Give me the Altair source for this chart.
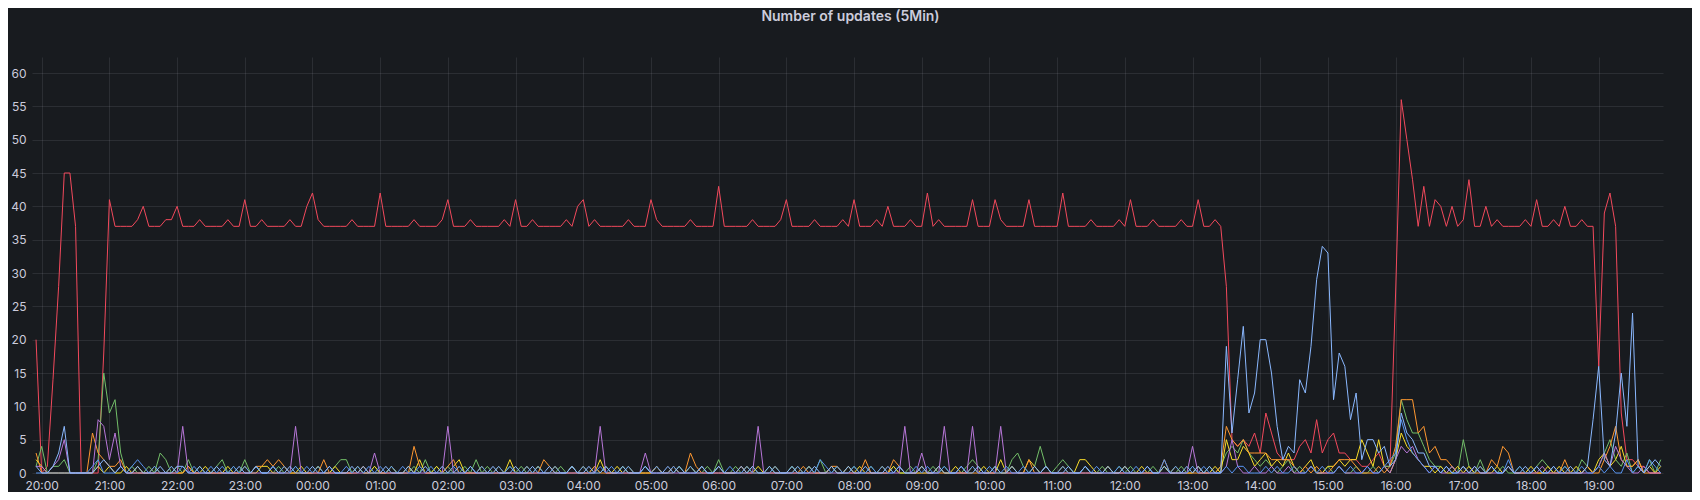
import altair as alt
import pandas as pd

# Series names and colours (Grafana dark palette)
series_names = ["s_red", "s_green", "s_yellow", "s_orange", "s_purple", "s_blue", "s_lightblue"]
series_colors = ["#F2495C", "#73BF69", "#FADE2A", "#FF9830", "#B877D9", "#5794F2", "#8AB8FF"]

# hourly tick labels (one per hour, from 20:00 to 19:00 next day)
hour_labels = ["20:00", "21:00", "22:00", "23:00", "00:00", "01:00", "02:00", "03:00",
               "04:00", "05:00", "06:00", "07:00", "08:00", "09:00", "10:00", "11:00",
               "12:00", "13:00", "14:00", "15:00", "16:00", "17:00", "18:00", "19:00"]
y_ticks = [0, 5, 10, 15, 20, 25, 30, 35, 40, 45, 50, 55, 60]

# 5-minute samples: first value at 19:55, then one row per hour (20:00 ... 19:00)
red = [20,
    0, 1, 14, 28, 45, 45, 37, 0, 0, 0, 0, 18,
    41, 37, 37, 37, 37, 38, 40, 37, 37, 37, 38, 38,
    40, 37, 37, 37, 38, 37, 37, 37, 37, 38, 37, 37,
    41, 37, 37, 38, 37, 37, 37, 37, 38, 37, 37, 40,
    42, 38, 37, 37, 37, 37, 37, 38, 37, 37, 37, 37,
    42, 37, 37, 37, 37, 37, 38, 37, 37, 37, 37, 38,
    41, 37, 37, 37, 38, 37, 37, 37, 37, 37, 38, 37,
    41, 37, 37, 38, 37, 37, 37, 37, 37, 38, 37, 40,
    41, 37, 38, 37, 37, 37, 37, 37, 38, 37, 37, 37,
    41, 38, 37, 37, 37, 37, 37, 38, 37, 37, 37, 37,
    43, 37, 37, 37, 37, 37, 38, 37, 37, 37, 37, 38,
    41, 37, 37, 37, 37, 38, 37, 37, 37, 37, 38, 37,
    41, 37, 37, 37, 38, 37, 40, 37, 37, 37, 38, 37,
    37, 42, 37, 38, 37, 37, 37, 37, 37, 41, 37, 37,
    37, 41, 38, 37, 37, 37, 37, 41, 37, 37, 37, 37,
    37, 42, 37, 37, 37, 37, 38, 37, 37, 37, 37, 38,
    37, 41, 37, 37, 37, 38, 37, 37, 37, 37, 38, 37,
    37, 41, 37, 37, 38, 37, 28, 5, 4, 5, 4, 6,
    3, 9, 6, 3, 2, 2, 2, 4, 5, 3, 8, 3,
    5, 6, 3, 3, 2, 2, 1, 1, 2, 3, 1, 1,
    27, 56, 50, 44, 37, 43, 37, 41, 40, 37, 40, 37,
    38, 44, 37, 37, 40, 37, 38, 37, 37, 37, 37, 38,
    37, 41, 37, 37, 38, 37, 40, 37, 37, 38, 37, 37,
    16, 39, 42, 37, 9, 2, 2, 1, 1, 0, 0, 0]

lightblue = [1,
    0, 0, 1, 3, 7, 0, 0, 0, 0, 0, 1, 2,
    1, 0, 1, 0, 0, 1, 0, 0, 0, 1, 0, 0,
    1, 1, 0, 0, 1, 0, 0, 1, 0, 0, 0, 1,
    0, 0, 1, 0, 0, 1, 0, 0, 1, 0, 0, 0,
    1, 0, 0, 1, 0, 0, 0, 1, 0, 1, 0, 0,
    0, 1, 0, 0, 0, 1, 0, 0, 1, 0, 0, 1,
    0, 0, 1, 0, 1, 0, 0, 0, 1, 0, 0, 0,
    1, 0, 0, 1, 0, 0, 1, 0, 0, 0, 1, 0,
    0, 1, 0, 0, 1, 0, 0, 1, 0, 0, 0, 1,
    0, 0, 0, 1, 0, 1, 0, 0, 0, 1, 0, 0,
    1, 0, 0, 0, 1, 0, 1, 0, 0, 1, 0, 0,
    0, 1, 0, 0, 0, 1, 0, 0, 1, 0, 0, 1,
    0, 0, 1, 0, 0, 0, 1, 0, 1, 0, 0, 0,
    1, 0, 0, 1, 0, 0, 0, 1, 0, 0, 1, 0,
    0, 1, 0, 0, 1, 0, 0, 0, 1, 0, 1, 0,
    0, 0, 1, 0, 0, 1, 0, 0, 0, 1, 0, 0,
    1, 0, 0, 0, 1, 0, 0, 1, 0, 0, 0, 1,
    0, 1, 0, 1, 0, 0, 19, 6, 14, 22, 9, 12,
    20, 20, 15, 7, 2, 4, 3, 14, 12, 19, 29, 34,
    33, 11, 18, 16, 8, 12, 2, 5, 5, 3, 4, 1,
    2, 9, 6, 5, 3, 3, 1, 1, 0, 1, 0, 0,
    1, 0, 1, 0, 0, 1, 0, 0, 1, 0, 0, 1,
    0, 1, 0, 0, 1, 0, 0, 1, 0, 0, 1, 8,
    16, 2, 1, 6, 15, 7, 24, 1, 0, 1, 2, 1]

green = [1,
    4, 0, 1, 1, 2, 0, 0, 0, 0, 0, 2, 15,
    9, 11, 3, 0, 1, 0, 0, 1, 0, 3, 2, 0,
    1, 0, 2, 0, 1, 0, 0, 1, 2, 0, 1, 0,
    2, 0, 1, 0, 0, 0, 1, 0, 0, 1, 0, 0,
    0, 1, 0, 0, 1, 2, 2, 0, 1, 0, 0, 1,
    0, 0, 1, 0, 0, 0, 1, 0, 2, 0, 1, 0,
    1, 0, 0, 1, 0, 2, 0, 1, 0, 0, 0, 1,
    0, 1, 0, 0, 1, 0, 0, 0, 1, 0, 1, 0,
    0, 0, 1, 0, 1, 0, 0, 1, 0, 0, 0, 1,
    0, 1, 0, 0, 0, 1, 0, 1, 0, 0, 1, 0,
    2, 0, 0, 1, 0, 0, 1, 0, 0, 1, 0, 0,
    0, 1, 0, 0, 1, 0, 2, 0, 0, 1, 0, 0,
    1, 0, 0, 1, 0, 0, 0, 1, 0, 0, 1, 0,
    0, 0, 1, 0, 1, 0, 0, 0, 1, 2, 1, 0,
    0, 1, 0, 0, 2, 3, 1, 0, 1, 4, 1, 0,
    1, 2, 1, 0, 0, 1, 0, 0, 1, 0, 0, 1,
    0, 1, 0, 0, 0, 1, 0, 1, 0, 0, 1, 0,
    1, 0, 0, 1, 0, 1, 3, 4, 3, 5, 3, 2,
    1, 2, 1, 0, 1, 2, 0, 1, 0, 1, 0, 0,
    1, 0, 1, 0, 0, 1, 0, 0, 1, 0, 1, 1,
    3, 11, 8, 6, 6, 4, 2, 1, 1, 0, 1, 0,
    5, 1, 0, 2, 0, 1, 0, 1, 0, 0, 1, 0,
    0, 1, 2, 1, 0, 0, 1, 0, 0, 2, 1, 0,
    1, 3, 5, 2, 1, 3, 0, 1, 0, 2, 0, 2]

yellow = [2,
    1, 0, 0, 0, 0, 0, 0, 0, 0, 0, 1, 0,
    1, 0, 0, 1, 0, 1, 0, 0, 1, 0, 0, 1,
    0, 0, 1, 0, 0, 1, 0, 0, 0, 1, 0, 0,
    1, 0, 0, 1, 1, 0, 0, 1, 0, 0, 1, 0,
    0, 1, 0, 0, 1, 0, 0, 0, 1, 0, 0, 1,
    0, 0, 1, 0, 0, 1, 0, 2, 0, 0, 1, 0,
    0, 1, 2, 0, 0, 0, 1, 0, 0, 1, 0, 2,
    0, 0, 1, 0, 1, 0, 0, 1, 0, 0, 1, 0,
    1, 0, 0, 2, 0, 0, 1, 0, 1, 0, 0, 0,
    0, 1, 0, 0, 1, 0, 0, 1, 0, 1, 0, 0,
    1, 0, 0, 0, 0, 1, 0, 1, 0, 0, 1, 0,
    0, 0, 1, 0, 1, 0, 0, 0, 1, 0, 0, 1,
    0, 1, 0, 0, 0, 1, 0, 1, 0, 0, 0, 0,
    1, 0, 0, 1, 0, 0, 1, 0, 0, 1, 0, 1,
    0, 0, 2, 0, 1, 0, 0, 2, 1, 0, 1, 0,
    0, 1, 0, 0, 2, 2, 1, 0, 0, 1, 0, 0,
    1, 0, 0, 1, 0, 0, 0, 1, 0, 1, 0, 0,
    0, 1, 0, 0, 1, 0, 5, 2, 2, 4, 3, 1,
    2, 3, 1, 2, 1, 3, 1, 0, 1, 2, 0, 0,
    1, 1, 2, 1, 2, 2, 5, 3, 1, 5, 1, 0,
    2, 6, 4, 3, 2, 1, 1, 0, 1, 0, 0, 1,
    0, 1, 0, 1, 0, 0, 1, 0, 1, 0, 0, 0,
    1, 0, 0, 1, 0, 1, 0, 0, 1, 0, 1, 0,
    2, 3, 1, 2, 4, 1, 1, 2, 0, 1, 0, 1]

orange = [3,
    0, 0, 0, 0, 0, 0, 0, 0, 0, 6, 3, 2,
    1, 1, 2, 0, 0, 0, 0, 0, 0, 0, 0, 0,
    0, 0, 1, 0, 0, 0, 0, 0, 0, 0, 0, 0,
    0, 0, 1, 1, 2, 1, 2, 1, 0, 0, 0, 0,
    0, 0, 2, 0, 0, 0, 0, 0, 0, 1, 0, 0,
    0, 0, 0, 0, 0, 0, 4, 1, 0, 0, 0, 0,
    1, 2, 0, 0, 0, 0, 0, 0, 0, 0, 0, 0,
    0, 0, 0, 0, 0, 2, 1, 0, 0, 0, 0, 0,
    0, 0, 1, 0, 0, 0, 0, 0, 0, 0, 0, 0,
    0, 1, 0, 0, 1, 0, 0, 3, 1, 0, 0, 0,
    0, 0, 0, 0, 1, 0, 0, 0, 0, 0, 0, 0,
    0, 0, 0, 1, 0, 0, 0, 0, 1, 1, 0, 0,
    0, 0, 2, 0, 0, 0, 0, 2, 1, 0, 0, 0,
    0, 0, 0, 0, 0, 0, 0, 0, 0, 0, 0, 0,
    0, 0, 0, 0, 0, 0, 0, 2, 0, 0, 0, 0,
    0, 0, 0, 0, 0, 0, 0, 0, 0, 0, 0, 0,
    0, 0, 0, 0, 0, 0, 0, 2, 0, 0, 0, 0,
    0, 0, 0, 0, 0, 1, 7, 5, 4, 5, 3, 3,
    3, 3, 2, 2, 2, 2, 1, 0, 1, 0, 1, 0,
    0, 1, 2, 2, 2, 1, 0, 0, 0, 1, 0, 1,
    4, 11, 11, 11, 6, 7, 3, 4, 2, 2, 1, 0,
    1, 0, 0, 0, 0, 2, 1, 4, 3, 0, 0, 0,
    0, 0, 0, 0, 0, 0, 2, 0, 0, 0, 1, 0,
    0, 2, 4, 7, 2, 1, 1, 2, 0, 0, 0, 0]

purple = [1,
    1, 0, 1, 2, 5, 0, 0, 0, 0, 0, 8, 7,
    2, 6, 1, 0, 0, 0, 0, 0, 0, 0, 0, 0,
    0, 7, 0, 0, 0, 0, 0, 0, 0, 0, 0, 0,
    0, 0, 0, 0, 0, 0, 0, 0, 0, 7, 0, 0,
    0, 0, 0, 0, 0, 0, 0, 0, 0, 0, 0, 3,
    0, 0, 0, 0, 0, 0, 0, 0, 0, 0, 0, 0,
    7, 0, 0, 0, 0, 0, 0, 0, 0, 0, 0, 0,
    0, 0, 0, 0, 0, 0, 0, 0, 0, 0, 0, 0,
    0, 0, 0, 7, 0, 0, 0, 0, 0, 0, 0, 3,
    0, 0, 0, 0, 0, 0, 0, 0, 0, 0, 0, 0,
    0, 0, 0, 0, 0, 0, 0, 7, 0, 0, 0, 0,
    0, 0, 0, 0, 0, 0, 0, 0, 0, 0, 0, 0,
    0, 0, 0, 0, 0, 0, 0, 0, 0, 7, 0, 0,
    3, 0, 0, 0, 7, 0, 0, 0, 0, 7, 0, 0,
    0, 0, 7, 0, 0, 0, 0, 0, 0, 0, 0, 0,
    0, 0, 0, 0, 0, 0, 0, 0, 0, 0, 0, 0,
    0, 0, 0, 0, 0, 0, 0, 0, 0, 0, 0, 0,
    4, 0, 0, 0, 0, 0, 1, 5, 1, 0, 0, 1,
    0, 0, 1, 0, 0, 1, 0, 0, 0, 1, 0, 0,
    0, 0, 1, 0, 0, 0, 0, 1, 0, 0, 1, 0,
    2, 4, 3, 4, 2, 1, 0, 1, 0, 0, 1, 0,
    0, 0, 1, 0, 0, 0, 0, 0, 1, 0, 0, 0,
    0, 0, 1, 0, 0, 0, 0, 0, 0, 0, 0, 0,
    1, 3, 1, 4, 2, 1, 0, 0, 1, 0, 0, 0]

blue = [0,
    0, 0, 0, 0, 0, 0, 0, 0, 0, 1, 2, 0,
    0, 0, 1, 0, 1, 2, 1, 0, 1, 0, 0, 1,
    0, 1, 0, 1, 0, 0, 1, 0, 1, 0, 1, 0,
    1, 0, 1, 0, 0, 1, 0, 1, 0, 1, 0, 1,
    0, 1, 0, 1, 0, 0, 1, 0, 1, 0, 1, 0,
    1, 0, 1, 0, 1, 0, 0, 1, 0, 1, 0, 0,
    0, 1, 0, 0, 1, 0, 1, 0, 0, 1, 0, 1,
    0, 0, 1, 0, 1, 0, 0, 1, 0, 0, 1, 0,
    1, 0, 0, 1, 0, 1, 0, 0, 1, 0, 0, 1,
    0, 1, 0, 0, 1, 0, 0, 1, 0, 1, 0, 0,
    1, 0, 1, 0, 0, 1, 0, 0, 0, 0, 1, 0,
    0, 0, 1, 0, 1, 0, 2, 1, 0, 1, 0, 0,
    1, 0, 0, 1, 0, 1, 0, 0, 1, 0, 0, 1,
    0, 1, 0, 0, 1, 0, 0, 1, 0, 1, 0, 0,
    1, 0, 0, 1, 0, 0, 1, 0, 0, 0, 1, 0,
    0, 1, 0, 0, 0, 1, 0, 1, 0, 0, 0, 1,
    0, 0, 1, 0, 1, 0, 0, 2, 0, 1, 0, 0,
    1, 0, 1, 0, 0, 0, 1, 0, 1, 1, 0, 0,
    0, 1, 0, 1, 0, 0, 1, 0, 0, 1, 0, 1,
    0, 0, 1, 0, 1, 0, 0, 1, 0, 0, 1, 2,
    3, 8, 5, 3, 2, 1, 0, 1, 0, 1, 0, 0,
    1, 0, 0, 1, 0, 1, 0, 0, 2, 0, 1, 0,
    0, 1, 0, 0, 1, 0, 1, 0, 0, 1, 0, 0,
    1, 0, 1, 0, 0, 2, 0, 1, 0, 2, 1, 0]

all_series = [red, green, yellow, orange, purple, blue, lightblue]
for s in all_series:
    assert len(s) == 289, len(s)

# sample time in minutes relative to 20:00 (5-minute step, first sample 19:55)
minutes = [5 * k - 5 for k in range(289)]
rows = []
for name, vals in zip(series_names, all_series):
    for m, v in zip(minutes, vals):
        rows.append({"minute": m, "value": v, "series": name})
df = pd.DataFrame(rows)

font = "Inter"
text_color = "#ccccdc"
label_array = "[" + ",".join("'" + s + "'" for s in hour_labels) + "]"

chart = alt.Chart(df).mark_line(strokeWidth=1, interpolate="linear").encode(
    x=alt.X(
        "minute:Q",
        scale=alt.Scale(domain=[-8.6, 1437], nice=False, zero=False),
        axis=alt.Axis(values=[60 * h for h in range(len(hour_labels))],
                      labelExpr=label_array + "[round(datum.value / 60)]",
                      title=None, labelPadding=7, labelFlush=False, labelOverlap=False),
    ),
    y=alt.Y(
        "value:Q",
        scale=alt.Scale(domain=[0, 62.4], nice=False, zero=True),
        axis=alt.Axis(values=y_ticks, title=None, labelPadding=6),
    ),
    color=alt.Color("series:N", scale=alt.Scale(domain=series_names, range=series_colors), legend=None),
).properties(
    width=1631,
    height=416,
    padding={"left": 24, "top": 49, "right": 29, "bottom": 19},
    autosize=alt.AutoSizeParams(type="none"),
    background="#181b1f",
    title=alt.Title("Number of updates (5Min)", anchor="middle", fontSize=14, fontWeight=600,
                    font=font, color=text_color, offset=33, dx=3),
).configure_view(
    stroke=None,
).configure_axis(
    domain=False,
    ticks=False,
    tickSize=0,
    grid=True,
    gridColor="#ccccdc",
    gridOpacity=0.11,
    gridWidth=1,
    labelColor=text_color,
    labelFont=font,
    labelFontSize=12,
)

chart.save("out.html", embed_options={"renderer": "svg", "actions": False})
